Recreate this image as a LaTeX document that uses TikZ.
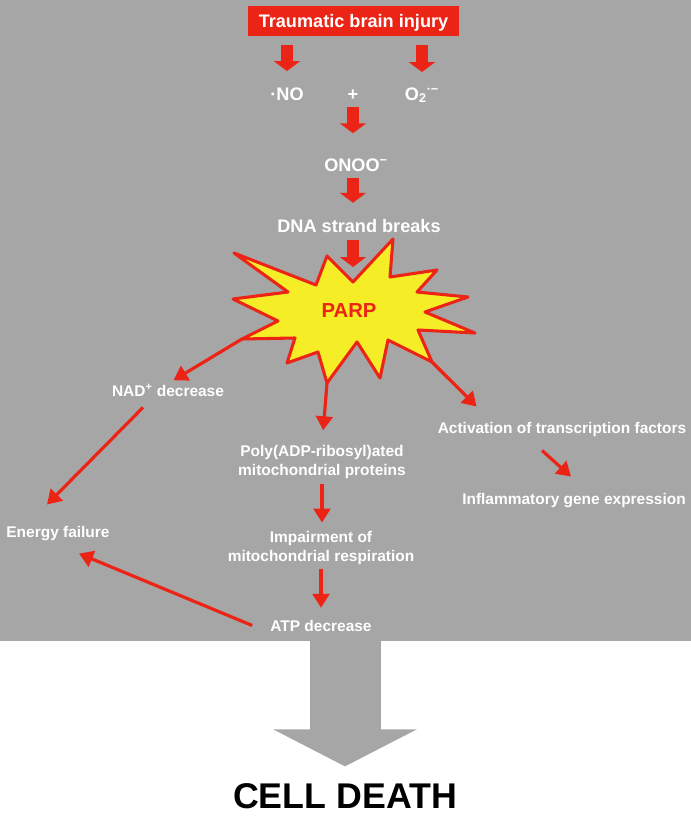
\documentclass[tikz,border=0pt]{standalone}
\usepackage{fontspec}
\setmainfont{Liberation Sans}
\usetikzlibrary{arrows.meta,calc}
\definecolor{bggray}{RGB}{166,166,166}
\definecolor{tbired}{RGB}{236,36,22}
\definecolor{burstyellow}{RGB}{245,238,38}
\tikzset{
  lbl/.style={text=white, font=\bfseries\fontsize{11.6}{13.9}\selectfont, inner sep=0pt, anchor=base, align=center},
  biglbl/.style={lbl, font=\bfseries\fontsize{13.6}{16}\selectfont},
  tbibox/.style={fill=tbired, text=white, font=\bfseries\fontsize{13.6}{16}\selectfont, inner sep=0pt,
    minimum width=158.25pt, minimum height=22.5pt, text height=9.7pt, text depth=0pt},
  fatarrow/.style={draw=tbired, line width=9.5pt, -{Triangle[length=7.5pt,width=19.5pt]}},
  thinarrow/.style={draw=tbired, line width=2.4pt, -{Triangle[length=10.5pt,width=12.5pt]}},
  burst/.style={draw=tbired, line width=2.3pt, line join=round, fill=burstyellow},
}
\begin{document}
\begin{tikzpicture}[x=0.75pt,y=-0.75pt]
\useasboundingbox (0,0) rectangle (691,817);
\fill[bggray] (0,0) rectangle (691,641);
\coordinate (notch) at (353,282);
\coordinate (pk-nad) at (242,339);
\coordinate (pk-poly) at (327,383);
\coordinate (pk-act) at (432,362);
\coordinate (panelfoot) at (345,640);
\node[tbibox] (tbi) at (353.5,21) {Traumatic brain injury};
\node[biglbl] (no) at (287,100) {·NO};
\node[biglbl] (plus) at (353,100) {+};
\node[biglbl] (otwo) at (422,100) {O\textsubscript{2}\textsuperscript{·−}};
\node[biglbl] (onoo) at (356,171) {ONOO\textsuperscript{−}};
\node[biglbl] (dna) at (359,232) {DNA strand breaks};
\draw[fatarrow, shorten <=6.75pt, shorten >=12pt] (tbi.south -| no) -- (no.north);
\draw[fatarrow, shorten <=6.75pt, shorten >=11.25pt] (tbi.south -| otwo) -- (otwo.north);
\draw[fatarrow, shorten <=5.25pt, shorten >=18.6pt] (plus.south) -- (plus.south |- onoo.north);
\draw[fatarrow, shorten <=5.25pt, shorten >=11.85pt] (onoo.south -| plus) -- (plus |- dna.north);
\draw[fatarrow, shorten <=6pt, shorten >=11.25pt] (dna.south -| plus) -- (notch);
\draw[burst] (234,253) -- (316,285) -- (327,256) -- (notch) -- (393,239) -- (390,277)
  -- (437,270) -- (417,292) -- (468,297) -- (425,312) -- (475,333) -- (418,330)
  -- (pk-act) -- (388,340) -- (380,378) -- (357,342) -- (pk-poly) -- (318,352)
  -- (287,363) -- (295,338) -- (pk-nad) -- (278,321) -- (233,299) -- (288,292) -- cycle;
\node[lbl, text=tbired, font=\bfseries\fontsize{15.2}{18}\selectfont] (parp) at (349,317) {PARP};
\node[lbl] (nad) at (168,396) {NAD\textsuperscript{+} decrease};
\node[lbl] (energy) at (58,537) {Energy failure};
\node[lbl, anchor=center] (poly) at (322,462) {Poly(ADP-ribosyl)ated\\mitochondrial proteins};
\node[lbl, anchor=center] (impair) at (321,548) {Impairment of\\mitochondrial respiration};
\node[lbl] (atp) at (321,631) {ATP decrease};
\node[lbl] (act) at (562,433) {Activation of transcription factors};
\node[lbl] (inflam) at (574,504) {Inflammatory gene expression};
\node[lbl, text=black, font=\bfseries\fontsize{26.8}{30}\selectfont] (death) at (345,808) {CELL DEATH};
\draw[thinarrow, shorten >=4.8pt] (pk-nad) -- (nad.north);
\draw[thinarrow, shorten >=11.25pt] (pk-poly) -- (poly.north);
\draw[thinarrow] (pk-act) -- ($(act.north west)+(39,-15)$);
\draw[thinarrow] ($(nad.south)+(-25,11)$) -- ($(energy.north)+(-11,-21)$);
\draw[thinarrow] ($(atp.west)+(-18,0)$) -- ($(energy.south)+(21,13)$);
\draw[thinarrow] ($(act.south)+(-20,14)$) -- ($(inflam.north)+(-3,-16)$);
\draw[thinarrow, shorten <=3.75pt, shorten >=6.5pt] (poly.south) -- (poly.south |- impair.north);
\draw[thinarrow, shorten <=3pt, shorten >=8.8pt] (impair.south) -- (impair.south |- atp.north);
\draw[draw=bggray, line width=53.25pt, -{Triangle[length=27.75pt,width=106.5pt]}, shorten >=12.3pt] (panelfoot) -- (death.north);
\end{tikzpicture}
\end{document}
